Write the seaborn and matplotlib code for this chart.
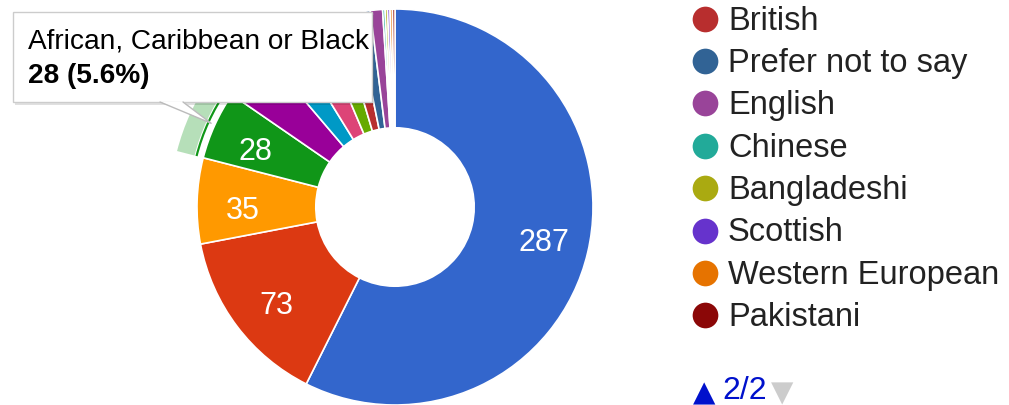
import numpy as np
import matplotlib
matplotlib.use("Agg")
import matplotlib.pyplot as plt
import seaborn as sns
from matplotlib.patches import Wedge, FancyBboxPatch, Polygon

# slices in data order (first page of the legend is not shown in the picture)
categories = [
    "Group 1", "Group 2", "Group 3", "African, Caribbean or Black",
    "Group 5", "Group 6", "Group 7", "Group 8",
    "British", "Prefer not to say", "English", "Chinese",
    "Bangladeshi", "Scottish", "Western European", "Pakistani",
]
counts = [287, 73, 35, 28, 21, 12, 12, 9, 7, 6, 5, 1, 1, 1, 1, 1]
colors = [
    "#3366cc", "#dc3912", "#ff9900", "#109618", "#990099", "#0099c6", "#dd4477", "#66aa00",
    "#b82e2e", "#316395", "#994499", "#22aa99", "#aaaa11", "#6633cc", "#e67300", "#8b0707",
]
legend_page = 2
legend_pages = 2
legend_names = categories[8:16]
legend_colors = colors[8:16]
highlight = "African, Caribbean or Black"
label_min_share = 0.05

W, H = 1009, 406
sns.set_theme(style="white")
plt.rcParams["font.family"] = ["Liberation Sans", "DejaVu Sans"]

fig = plt.figure(figsize=(W / 100, H / 100), dpi=100)
ax = fig.add_axes([0, 0, 1, 1])

cx, cy, R = 395, H - 208, 198
hole = 0.4
wedges, _ = ax.pie(
    counts, colors=colors, startangle=90, counterclock=False,
    center=(cx, cy), radius=R, frame=True,
    wedgeprops=dict(width=R * (1 - hole), edgecolor="white", linewidth=1.2),
)
ax.set_xlim(0, W)
ax.set_ylim(0, H)
ax.axis("off")

total = sum(counts)
r_lab = 152
for w, v in zip(wedges, counts):
    if v / total < label_min_share:
        continue
    mid = np.deg2rad((w.theta1 + w.theta2) / 2 + 1.5)
    ax.text(cx + r_lab * np.cos(mid), cy + r_lab * np.sin(mid), str(v),
            color="white", fontsize=22, ha="center", va="center_baseline")

# hover ring on the highlighted slice
hi = categories.index(highlight)
hw = wedges[hi]
ax.add_patch(Wedge((cx, cy), R + 27, hw.theta1, hw.theta2, width=18,
                   facecolor=colors[hi], alpha=0.3, edgecolor="none"))
ax.add_patch(Wedge((cx, cy), R + 8, hw.theta1, hw.theta2, width=2.2,
                   facecolor=colors[hi], edgecolor="none"))

# legend, page 2
row0, dy = 29.5, 42.4
for i, (name, col) in enumerate(zip(legend_names, legend_colors)):
    base = H - (row0 + i * dy)
    ax.plot(705, base + 10, "o", markersize=18.5, color=col, markeredgewidth=0)
    ax.text(728, base, name, fontsize=23.5, color="#222222", va="baseline", ha="left")

ax.text(693, H - 401, "▲", fontsize=21, color="#0011cc", va="baseline", ha="left",
        family="DejaVu Sans")
ax.text(722, H - 399, f"{legend_page}/{legend_pages}", fontsize=23, color="#0011cc",
        va="baseline", ha="left")
ax.text(771, H - 401, "▼", fontsize=21, color="#cccccc", va="baseline", ha="left",
        family="DejaVu Sans")

# tooltip
bx0, by0, bx1, by1 = 13, 13, 372, 103
mid = np.deg2rad((hw.theta1 + hw.theta2) / 2)
tip = (cx + (R + 4) * np.cos(mid), cy + (R + 4) * np.sin(mid))
ax.add_patch(FancyBboxPatch((bx0 + 2, H - by1 - 3), bx1 - bx0, by1 - by0,
                            boxstyle="square,pad=0", facecolor="#000000", alpha=0.12,
                            edgecolor="none", zorder=9))
ax.add_patch(FancyBboxPatch((bx0, H - by1), bx1 - bx0, by1 - by0,
                            boxstyle="square,pad=0", facecolor="white",
                            edgecolor="#cccccc", linewidth=1, zorder=10))
ax.add_patch(Polygon([(160, H - by1 + 0.5), (183, H - by1 + 0.5), tip], closed=True,
                     facecolor="white", edgecolor="none", zorder=11))
ax.plot([160, tip[0], 183], [H - by1, tip[1], H - by1], color="#bbbbbb", lw=1, zorder=11)
ax.text(28, H - 48, highlight, fontsize=20.2, color="#000000", va="baseline", zorder=12)
ax.text(28, H - 83, f"{counts[hi]} ({counts[hi] / total:.1%})", fontsize=20.2,
        fontweight="bold", color="#000000", va="baseline", zorder=12)

fig.savefig("out.png", dpi=100)
